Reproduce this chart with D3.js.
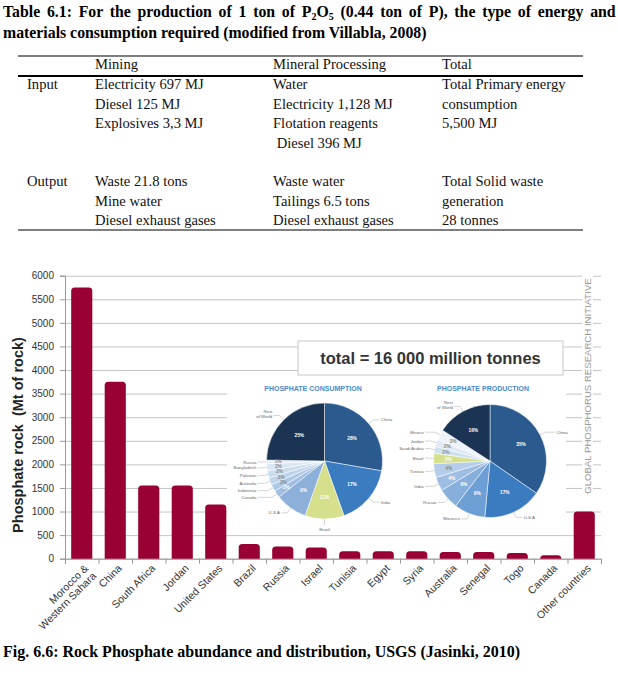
<!DOCTYPE html>
<html>
<head>
<meta charset="utf-8">
<script src="https://cdn.jsdelivr.net/npm/d3@7"></script>
<style>
  body { margin: 0; background: #fff; }
  svg { display: block; }
</style>
</head>
<body>
<svg id="page" width="618" height="675"></svg>
<script>
// table 6.1 text
var tableColumns = ['Mining', 'Mineral Processing', 'Total']
var inputRows = [
  ['Electricity 697 MJ', 'Water', 'Total Primary energy'],
  ['Diesel 125 MJ', 'Electricity 1,128 MJ', 'consumption'],
  ['Explosives 3,3 MJ', 'Flotation reagents', '5,500 MJ'],
  ['', '\u00a0Diesel 396 MJ', '']
]
var outputRows = [
  ['Waste 21.8 tons', 'Waste water', 'Total Solid waste'],
  ['Mine water', 'Tailings 6.5 tons', 'generation'],
  ['Diesel exhaust gases', 'Diesel exhaust gases', '28 tonnes']
]

// bar chart data (Mt of rock)
var countries = ['Morocco & Western Sahara', 'China', 'South Africa', 'Jordan', 'United States', 'Brazil', 'Russia', 'Israel',
  'Tunisia', 'Egypt', 'Syria', 'Australia', 'Senegal', 'Togo', 'Canada', 'Other countries']
var reserves = [5750, 3750, 1550, 1550, 1150, 310, 260, 240, 160, 160, 160, 140, 140, 120, 75, 1000]
var yTicks = [0, 500, 1000, 1500, 2000, 2500, 3000, 3500, 4000, 4500, 5000, 5500, 6000]

// inset pies (%)
var consumptionNames = ['China', 'India', 'Brazil', 'U.S.A', 'Canada', 'Indonesia', 'Australia', 'Pakistan', 'Bangladesh', 'Russia', 'Rest of World']
var consumptionShares = [28, 17, 11, 9, 2, 2, 2, 2, 2, 1, 25]
var productionNames = ['China', 'U.S.A', 'Morocco', 'Russia', 'India', 'Tunisia', 'Brazil', 'Saudi Arabia', 'Jordan', 'Mexico', 'Rest of World']
var productionShares = [35, 17, 9, 6, 4, 4, 3, 2, 2, 3, 16]

var consumptionColors = ['#2b5b8e', '#3b7cc0', '#d5df8c', '#8cb0da', '#9fbee1', '#adc9e7', '#bdd4eb', '#cbdcef', '#d9e6f3', '#e7eff8', '#1b3453']
var productionColors = ['#2b5b8e', '#3b7cc0', '#6e9fd4', '#86afdc', '#9dbde3', '#b3cdea', '#d5df8c', '#cddff0', '#dfe9f5', '#eef3fa', '#1b3453']

var svg = d3.select('#page')
var serif = 'Liberation Serif, Times New Roman, serif'
var sans = 'Liberation Sans, Arial, sans-serif'

// ---------- table ----------
var title = svg.append('g').attr('font-family', serif).attr('font-weight', 'bold').attr('font-size', 15.8).attr('fill', '#000')
var t1 = title.append('text').attr('x', 3).attr('y', 17)
t1.append('tspan').text('Table 6.1: For the production of 1 ton of P')
t1.append('tspan').attr('font-size', 10).attr('dy', 3).text('2')
t1.append('tspan').attr('dy', -3).text('O')
t1.append('tspan').attr('font-size', 10).attr('dy', 3).text('5')
t1.append('tspan').attr('dy', -3).text(' (0.44 ton of P), the type of energy and')
// first line is justified in the source document
var gap = (607 - t1.node().getComputedTextLength()) / 16
t1.attr('word-spacing', Math.max(0, gap))
title.append('text').attr('x', 3).attr('y', 38).text('materials consumption required (modified from Villabla, 2008)')

var colX = [95, 273, 442]
var table = svg.append('g').attr('font-family', serif).attr('font-size', 14.6).attr('fill', '#111')
table.append('line').attr('x1', 18).attr('x2', 583).attr('y1', 56).attr('y2', 56).attr('stroke', '#000').attr('stroke-width', 1.2)
table.append('line').attr('x1', 18).attr('x2', 583).attr('y1', 76).attr('y2', 76).attr('stroke', '#000').attr('stroke-width', 2)
table.append('line').attr('x1', 18).attr('x2', 583).attr('y1', 230).attr('y2', 230).attr('stroke', '#000').attr('stroke-width', 1.2)
table.selectAll('.hd').data(tableColumns).enter().append('text')
  .attr('x', function (d, i) { return colX[i] }).attr('y', 69).text(function (d) { return d })

function tableBlock (label, rows, y0) {
  table.append('text').attr('x', 27).attr('y', y0).text(label)
  rows.forEach(function (row, r) {
    row.forEach(function (cell, c) {
      table.append('text').attr('x', colX[c]).attr('y', y0 + r * 19.5).text(cell)
    })
  })
}
tableBlock('Input', inputRows, 89)
tableBlock('Output', outputRows, 186)

// ---------- bar chart ----------
var plotLeft = 65
var plotRight = 601
var plotTop = 275.7
var plotBottom = 558.7

var x = d3.scaleBand().domain(countries).range([plotLeft, plotRight]).paddingInner(0.37).paddingOuter(0.185)
var xEdges = d3.scaleLinear().domain([0, countries.length]).range([plotLeft, plotRight])
var y = d3.scaleLinear().domain([0, 6000]).range([plotBottom, plotTop])

var chart = svg.append('g').attr('font-family', sans)

chart.append('g')
  .attr('transform', 'translate(' + plotLeft + ',0)')
  .call(d3.axisLeft(y).tickValues(yTicks).tickSize(-(plotRight - plotLeft)).tickFormat(''))
  .call(function (g) { g.select('.domain').remove() })
  .selectAll('line').attr('stroke', '#c4c4c4')

// white panels: watermark strip and pie inset
chart.append('rect').attr('x', 582).attr('y', 266).attr('width', 11).attr('height', 238).attr('fill', '#fff')
chart.append('rect').attr('x', 227).attr('y', 378).attr('width', 339).attr('height', 150).attr('fill', '#fff')

var yAxis = chart.append('g')
  .attr('transform', 'translate(' + plotLeft + ',0)')
  .call(d3.axisLeft(y).tickValues(yTicks).tickFormat(d3.format('d')).tickSize(5).tickPadding(6))
yAxis.select('.domain').attr('stroke', '#999')
yAxis.selectAll('line').attr('stroke', '#999')
yAxis.selectAll('text').attr('font-size', 10).attr('fill', '#333').attr('font-family', sans)

var xAxis = chart.append('g')
  .attr('transform', 'translate(0,' + plotBottom + ')')
  .call(d3.axisBottom(xEdges).ticks(countries.length).tickSize(5).tickFormat(''))
xAxis.select('.domain').attr('stroke', '#999')
xAxis.selectAll('line').attr('stroke', '#999')

function roundTop (x0, y0, w, h, r) {
  r = Math.min(r, h, w / 2)
  return 'M' + x0 + ',' + (y0 + h) + 'V' + (y0 + r) +
    'Q' + x0 + ',' + y0 + ' ' + (x0 + r) + ',' + y0 +
    'H' + (x0 + w - r) +
    'Q' + (x0 + w) + ',' + y0 + ' ' + (x0 + w) + ',' + (y0 + r) +
    'V' + (y0 + h) + 'Z'
}

chart.selectAll('.bar').data(reserves).enter().append('path')
  .attr('class', 'bar')
  .attr('fill', '#990033')
  .attr('d', function (d, i) {
    return roundTop(x(countries[i]), y(d), x.bandwidth(), plotBottom - y(d), 3.5)
  })

var xl = chart.append('g').attr('font-size', 10.5).attr('fill', '#333')
countries.forEach(function (c) {
  var t = xl.append('text')
    .attr('text-anchor', 'end')
    .attr('transform', 'translate(' + (x(c) + x.bandwidth() / 2 + 5) + ',' + (plotBottom + 8) + ') rotate(-45)')
  if (c.indexOf('&') > 0) {
    t.append('tspan').attr('x', 0).attr('dy', '0.3em').text('Morocco &')
    t.append('tspan').attr('x', 0).attr('dy', '1.05em').text('Western Sahara')
  } else {
    t.attr('dy', '0.3em').text(c)
  }
})

chart.append('text')
  .attr('transform', 'translate(23,435) rotate(-90)')
  .attr('text-anchor', 'middle')
  .attr('font-size', 14.5).attr('font-weight', 'bold').attr('fill', '#222')
  .text('Phosphate rock \u00a0(Mt of rock)')

chart.append('text')
  .attr('transform', 'translate(591,386) rotate(-90)')
  .attr('text-anchor', 'middle')
  .attr('font-size', 9.6).attr('fill', '#999')
  .text('GLOBAL PHOSPHORUS RESEARCH INITIATIVE')

// total box
chart.append('rect').attr('x', 298).attr('y', 341).attr('width', 265).attr('height', 34)
  .attr('fill', '#fff').attr('stroke', '#c8c8c8')
chart.append('text').attr('x', 430.5).attr('y', 364).attr('text-anchor', 'middle')
  .attr('font-size', 16.5).attr('font-weight', 'bold').attr('fill', '#333')
  .text('total = 16 000 million tonnes')

// ---------- pies ----------
function drawPie (cx, cy, r, names, shares, colors, label, labelX) {
  var g = chart.append('g').attr('transform', 'translate(' + cx + ',' + cy + ')')
  var arcs = d3.pie().sort(null).value(function (d) { return d })(shares)
  var arc = d3.arc().innerRadius(0).outerRadius(r)

  g.selectAll('.slice').data(arcs).enter().append('path')
    .attr('d', arc)
    .attr('fill', function (d, i) { return colors[i] })
    .attr('stroke', '#fff').attr('stroke-width', 0.5)

  g.selectAll('.pct').data(arcs).enter().append('text')
    .attr('transform', function (d) {
      var rr = d.value > 4 ? r * 0.62 : (d.value > 2 ? r * 0.74 : r * 0.8)
      return 'translate(' + d3.arc().innerRadius(rr).outerRadius(rr).centroid(d) + ')'
    })
    .attr('text-anchor', 'middle').attr('dy', '0.35em')
    .attr('font-size', 4.8).attr('font-weight', 'bold')
    .attr('fill', function (d, i) { return d3.hsl(colors[i]).l > 0.76 ? '#8a8a8a' : '#fff' })
    .text(function (d) { return d.value + '%' })

  arcs.forEach(function (d, i) {
    var a = (d.startAngle + d.endAngle) / 2
    var s = Math.sin(a)
    var c = -Math.cos(a)
    var side = s < 0 ? -1 : 1
    var p1 = [r * s, r * c]
    var p2 = [r * 1.1 * s, r * 1.1 * c]
    var p3
    if (Math.abs(c) < 0.6) p3 = [side * r * 1.15, p2[1]]
    else if (Math.abs(s) < 0.15) p3 = p2
    else p3 = [p2[0] + side * 6, p2[1]]
    g.append('polyline').attr('points', [p1, p2, p3].join(' '))
      .attr('fill', 'none').attr('stroke', '#aaa').attr('stroke-width', 0.5)
    var t = g.append('text').attr('font-size', 4.3).attr('fill', '#666')
    if (Math.abs(s) < 0.15) {
      t.attr('x', p3[0]).attr('y', p3[1] + 6).attr('text-anchor', 'middle').text(names[i])
    } else if (names[i] === 'Rest of World') {
      t.attr('text-anchor', side < 0 ? 'end' : 'start')
      t.append('tspan').attr('x', p3[0] + side * 1.5).attr('y', p3[1] - 2.5).text('Rest')
      t.append('tspan').attr('x', p3[0] + side * 1.5).attr('y', p3[1] + 2.5).text('of World')
    } else {
      t.attr('x', p3[0] + side * 1.5).attr('y', p3[1]).attr('dy', '0.35em')
        .attr('text-anchor', side < 0 ? 'end' : 'start').text(names[i])
    }
  })

  chart.append('text').attr('x', labelX).attr('y', 391).attr('text-anchor', 'middle')
    .attr('font-size', 7).attr('font-weight', 'bold').attr('fill', '#4a8ac9')
    .text(label)
}

drawPie(324.5, 461, 58, consumptionNames, consumptionShares, consumptionColors, 'PHOSPHATE CONSUMPTION', 313)
drawPie(490, 461, 56.5, productionNames, productionShares, productionColors, 'PHOSPHATE PRODUCTION', 483)

// ---------- caption ----------
svg.append('text').attr('x', 3).attr('y', 657)
  .attr('font-family', serif).attr('font-weight', 'bold').attr('font-size', 16).attr('fill', '#000')
  .text('Fig. 6.6: Rock Phosphate abundance and distribution, USGS (Jasinki, 2010)')
</script>
</body>
</html>
